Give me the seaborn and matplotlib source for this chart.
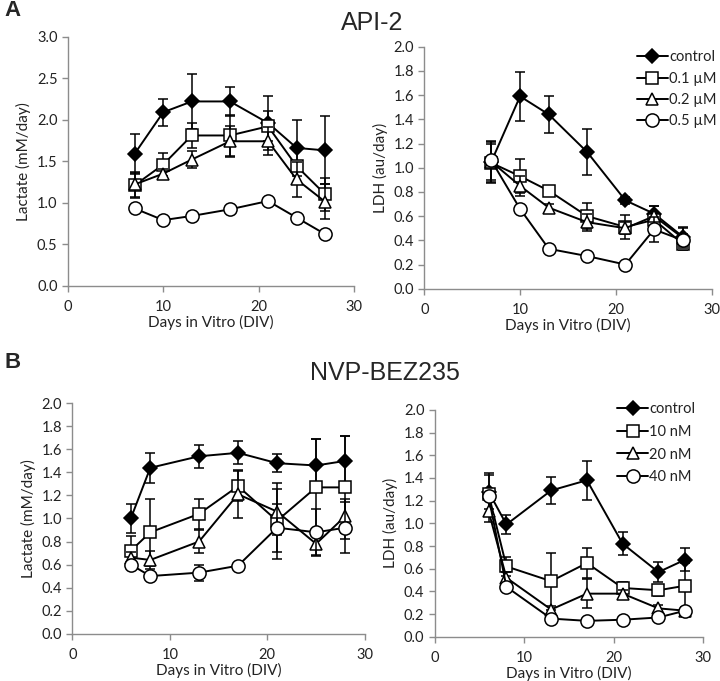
import numpy as np
import pandas as pd
import matplotlib
matplotlib.use("Agg")
import matplotlib.pyplot as plt
import seaborn as sns

# ---------------- data ----------------
days_a = [7, 10, 13, 17, 21, 24, 27]
days_b = [6, 8, 13, 17, 21, 25, 28]

labels_a = ["control", "0.1 µM", "0.2 µM", "0.5 µM"]
labels_b = ["control", "10 nM", "20 nM", "40 nM"]

# Panel A left: Lactate, API-2
lac_a_ctrl = [1.59, 2.09, 2.22, 2.22, 1.96, 1.66, 1.63]
lac_a_ctrl_err = [0.24, 0.16, 0.33, 0.17, 0.32, 0.34, 0.41]
lac_a_01 = [1.21, 1.46, 1.81, 1.81, 1.92, 1.44, 1.10]
lac_a_01_err = [0.15, 0.14, 0.15, 0.25, 0.18, 0.20, 0.20]
lac_a_02 = [1.22, 1.35, 1.52, 1.74, 1.74, 1.28, 1.01]
lac_a_02_err = [0.15, 0.05, 0.10, 0.19, 0.17, 0.21, 0.21]
lac_a_05 = [0.93, 0.79, 0.84, 0.92, 1.02, 0.82, 0.62]
lac_a_05_err = [0.0, 0.0, 0.0, 0.0, 0.0, 0.0, 0.0]

# Panel A right: LDH, API-2
ldh_a_ctrl = [1.05, 1.59, 1.44, 1.13, 0.73, 0.62, 0.43]
ldh_a_ctrl_err = [0.17, 0.20, 0.15, 0.19, 0.03, 0.06, 0.08]
ldh_a_01 = [1.04, 0.93, 0.81, 0.60, 0.51, 0.57, 0.37]
ldh_a_01_err = [0.17, 0.14, 0.0, 0.11, 0.10, 0.06, 0.05]
ldh_a_02 = [1.05, 0.85, 0.67, 0.55, 0.50, 0.60, 0.42]
ldh_a_02_err = [0.15, 0.08, 0.03, 0.07, 0.05, 0.08, 0.08]
ldh_a_05 = [1.06, 0.66, 0.33, 0.27, 0.20, 0.49, 0.40]
ldh_a_05_err = [0.0, 0.0, 0.0, 0.0, 0.0, 0.10, 0.05]

# Panel B left: Lactate, NVP-BEZ235
lac_b_ctrl = [1.00, 1.44, 1.54, 1.57, 1.48, 1.46, 1.50]
lac_b_ctrl_err = [0.13, 0.13, 0.10, 0.10, 0.08, 0.23, 0.22]
lac_b_10 = [0.72, 0.88, 1.04, 1.28, 0.98, 1.27, 1.27]
lac_b_10_err = [0.13, 0.29, 0.13, 0.13, 0.33, 0.42, 0.45]
lac_b_20 = [0.66, 0.64, 0.80, 1.21, 1.06, 0.78, 1.02]
lac_b_20_err = [0.05, 0.08, 0.10, 0.21, 0.20, 0.11, 0.15]
lac_b_40 = [0.60, 0.50, 0.53, 0.59, 0.92, 0.88, 0.92]
lac_b_40_err = [0.0, 0.0, 0.07, 0.0, 0.21, 0.20, 0.22]

# Panel B right: LDH, NVP-BEZ235
ldh_b_ctrl = [1.28, 0.99, 1.29, 1.38, 0.82, 0.57, 0.68]
ldh_b_ctrl_err = [0.15, 0.08, 0.12, 0.17, 0.10, 0.09, 0.10]
ldh_b_10 = [1.26, 0.62, 0.49, 0.65, 0.43, 0.41, 0.45]
ldh_b_10_err = [0.18, 0.08, 0.25, 0.13, 0.05, 0.05, 0.20]
ldh_b_20 = [1.11, 0.52, 0.24, 0.38, 0.38, 0.25, 0.23]
ldh_b_20_err = [0.10, 0.05, 0.03, 0.13, 0.03, 0.03, 0.03]
ldh_b_40 = [1.24, 0.44, 0.16, 0.14, 0.15, 0.17, 0.23]
ldh_b_40_err = [0.0, 0.0, 0.0, 0.0, 0.0, 0.0, 0.0]

# ---------------- style ----------------
sns.set_theme(style="ticks")
plt.rcParams["font.family"] = ["Lato", "DejaVu Sans"]

fig = plt.figure(figsize=(7.2, 6.81), dpi=100)

markers = ["D", "s", "^", "o"]
mfcs = ["black", "white", "white", "white"]
msizes = [7, 9, 9, 9.5]

axis_grey = "#8c8c8c"
text_col = "#222222"


def panel(rect, days, series, errs, labels, ylim, yticks, ylabel,
          legend=False, leg_anchor=(0.7, 1.0), leg_spacing=0.55):
    ax = fig.add_axes(rect)
    for i, (vals, err) in enumerate(zip(series, errs)):
        df = pd.DataFrame({"day": days, "val": vals})
        ax.errorbar(days, vals, yerr=err, fmt="none", ecolor="black",
                    elinewidth=1.1, capsize=3.5, capthick=1.1, zorder=2 + i * 2)
        sns.lineplot(data=df, x="day", y="val", ax=ax, color="black",
                     marker=markers[i], markerfacecolor=mfcs[i],
                     markeredgecolor="black", markeredgewidth=1.1,
                     markersize=msizes[i], linewidth=1.4, label=labels[i],
                     zorder=3 + i * 2, legend=legend)
    ax.set_xlim(0, 30)
    ax.set_ylim(*ylim)
    ax.set_xticks([0, 10, 20, 30])
    ax.set_yticks(yticks)
    ax.set_yticklabels([f"{t:.1f}" for t in yticks])
    ax.set_xlabel("Days in Vitro (DIV)", fontsize=11, color=text_col, labelpad=1)
    ax.set_ylabel(ylabel, fontsize=11, color=text_col, labelpad=4)
    for s in ["top", "right"]:
        ax.spines[s].set_visible(False)
    for s in ["left", "bottom"]:
        ax.spines[s].set_color(axis_grey)
        ax.spines[s].set_linewidth(1.0)
    ax.tick_params(axis="both", colors=axis_grey, labelcolor=text_col,
                   labelsize=10.5, length=4, width=1.0, direction="out")
    ax.tick_params(axis="x", pad=6)
    if legend:
        leg = ax.legend(loc="upper left", frameon=False, fontsize=10.5,
                        handlelength=2.1, handletextpad=0.1,
                        labelspacing=leg_spacing, borderpad=0.0,
                        borderaxespad=0.0, bbox_to_anchor=leg_anchor)
        for t in leg.get_texts():
            t.set_color(text_col)
    else:
        if ax.get_legend() is not None:
            ax.get_legend().remove()
    return ax


panel([0.0944, 0.5805, 0.397, 0.3656], days_a,
      [lac_a_ctrl, lac_a_01, lac_a_02, lac_a_05],
      [lac_a_ctrl_err, lac_a_01_err, lac_a_02_err, lac_a_05_err],
      labels_a, (0, 3.0), [0.0, 0.5, 1.0, 1.5, 2.0, 2.5, 3.0],
      "Lactate (mM/day)")

panel([0.5893, 0.576, 0.399, 0.3554], days_a,
      [ldh_a_ctrl, ldh_a_01, ldh_a_02, ldh_a_05],
      [ldh_a_ctrl_err, ldh_a_01_err, ldh_a_02_err, ldh_a_05_err],
      labels_a, (0, 2.0), [0.0, 0.2, 0.4, 0.6, 0.8, 1.0, 1.2, 1.4, 1.6, 1.8, 2.0],
      "LDH (au/day)", legend=True, leg_anchor=(0.74, 0.985), leg_spacing=0.5)

panel([0.1004, 0.0695, 0.4063, 0.3383], days_b,
      [lac_b_ctrl, lac_b_10, lac_b_20, lac_b_40],
      [lac_b_ctrl_err, lac_b_10_err, lac_b_20_err, lac_b_40_err],
      labels_b, (0, 2.0), [0.0, 0.2, 0.4, 0.6, 0.8, 1.0, 1.2, 1.4, 1.6, 1.8, 2.0],
      "Lactate (mM/day)")

panel([0.604, 0.065, 0.3726, 0.333], days_b,
      [ldh_b_ctrl, ldh_b_10, ldh_b_20, ldh_b_40],
      [ldh_b_ctrl_err, ldh_b_10_err, ldh_b_20_err, ldh_b_40_err],
      labels_b, (0, 2.0), [0.0, 0.2, 0.4, 0.6, 0.8, 1.0, 1.2, 1.4, 1.6, 1.8, 2.0],
      "LDH (au/day)", legend=True, leg_anchor=(0.68, 1.035), leg_spacing=0.6)

fig.text(0.006, 0.984, "A", fontsize=16, fontweight="bold", family="Liberation Sans",
         va="center", ha="left")
fig.text(0.006, 0.468, "B", fontsize=16, fontweight="bold", family="Liberation Sans",
         va="center", ha="left")
fig.text(0.517, 0.966, "API-2", fontsize=18, family="Liberation Sans", va="center", ha="center")
fig.text(0.535, 0.452, "NVP-BEZ235", fontsize=18, family="Liberation Sans", va="center", ha="center")

fig.savefig("out.png", dpi=100)
